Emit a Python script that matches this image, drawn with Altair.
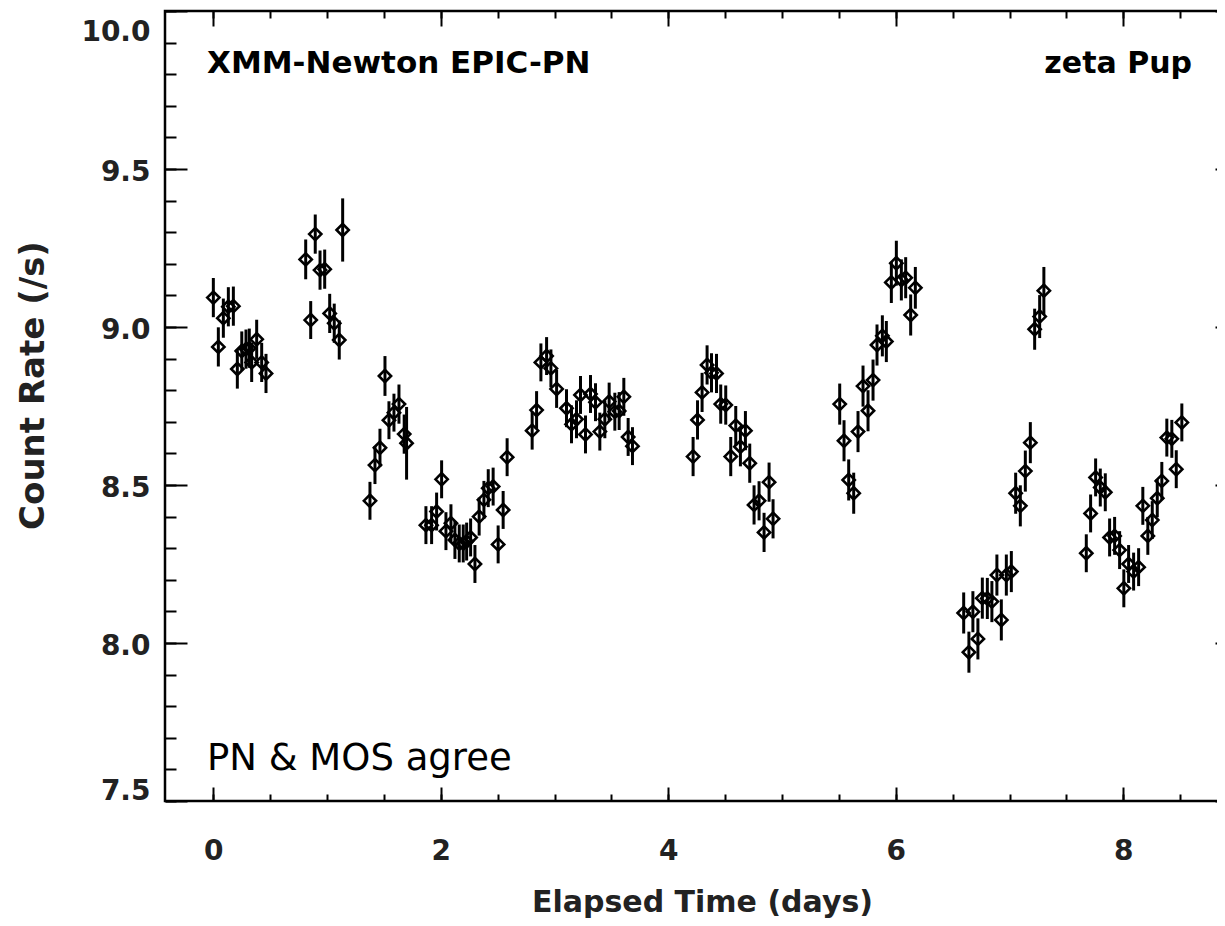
import altair as alt
import pandas as pd

# ---- data ----
time_days = [
    0.000, 0.044, 0.088, 0.132, 0.176, 0.211, 0.250, 0.287, 0.316, 0.337, 0.381, 0.425, 0.463,
    0.812, 0.856, 0.896, 0.938, 0.979, 1.023, 1.063, 1.107, 1.137,
    1.377, 1.421, 1.465, 1.509, 1.544, 1.588, 1.632, 1.678, 1.699,
    1.869, 1.919, 1.963, 2.007, 2.045, 2.089, 2.124, 2.162, 2.197, 2.227, 2.262, 2.300, 2.337,
    2.379, 2.417, 2.460, 2.504, 2.548, 2.583,
    2.803, 2.842, 2.880, 2.930, 2.968, 3.018, 3.105, 3.149, 3.193, 3.228, 3.272, 3.316, 3.360,
    3.398, 3.442, 3.480, 3.530, 3.568, 3.609, 3.647, 3.685,
    4.218, 4.257, 4.297, 4.341, 4.380, 4.424, 4.461, 4.505, 4.549, 4.593, 4.634, 4.678, 4.716,
    4.754, 4.798, 4.842, 4.886, 4.921,
    5.507, 5.545, 5.586, 5.630, 5.668, 5.712, 5.756, 5.800, 5.835, 5.882, 5.917, 5.961, 6.005,
    6.049, 6.087, 6.131, 6.172,
    6.597, 6.643, 6.678, 6.722, 6.761, 6.805, 6.845, 6.889, 6.928, 6.972, 7.016, 7.054, 7.095,
    7.139, 7.183, 7.221, 7.265, 7.302,
    7.675, 7.713, 7.757, 7.798, 7.842, 7.880, 7.924, 7.968, 8.005, 8.047, 8.091, 8.135, 8.172,
    8.216, 8.255, 8.299, 8.339, 8.383, 8.427, 8.466, 8.515,
]
count_rate = [
    9.093, 8.937, 9.028, 9.064, 9.066, 8.867, 8.924, 8.930, 8.933, 8.888, 8.961, 8.888, 8.853,
    9.214, 9.022, 9.294, 9.180, 9.183, 9.043, 9.012, 8.959, 9.307,
    8.450, 8.563, 8.618, 8.845, 8.705, 8.729, 8.756, 8.661, 8.632,
    8.373, 8.373, 8.416, 8.518, 8.354, 8.379, 8.326, 8.315, 8.315, 8.321, 8.334, 8.250, 8.400,
    8.453, 8.490, 8.495, 8.312, 8.421, 8.588,
    8.672, 8.737, 8.888, 8.908, 8.869, 8.804, 8.743, 8.692, 8.708, 8.785, 8.660, 8.788, 8.762,
    8.669, 8.708, 8.764, 8.732, 8.734, 8.779, 8.652, 8.623,
    8.590, 8.706, 8.793, 8.880, 8.855, 8.853, 8.756, 8.753, 8.590, 8.688, 8.621, 8.672, 8.569,
    8.437, 8.450, 8.350, 8.509, 8.393,
    8.756, 8.640, 8.516, 8.474, 8.669, 8.813, 8.735, 8.832, 8.943, 8.972, 8.954, 9.141, 9.202,
    9.149, 9.156, 9.038, 9.124,
    8.095, 7.971, 8.099, 8.013, 8.142, 8.141, 8.131, 8.215, 8.073, 8.215, 8.226, 8.474, 8.434,
    8.544, 8.634, 8.993, 9.033, 9.115,
    8.284, 8.410, 8.524, 8.492, 8.477, 8.334, 8.339, 8.294, 8.173, 8.250, 8.226, 8.240, 8.434,
    8.339, 8.389, 8.458, 8.513, 8.650, 8.646, 8.550, 8.698,
]
rate_err = (
    [0.062] * 13
    + [0.063, 0.06, 0.062, 0.062, 0.062, 0.062, 0.062, 0.062, 0.100]
    + [0.060, 0.060, 0.060, 0.063, 0.060, 0.060, 0.062, 0.062, 0.115]
    + [0.060] * 19
    + [0.060] * 21
    + [0.062] * 18
    + [0.065, 0.065, 0.065, 0.065, 0.065, 0.065, 0.065, 0.065, 0.065, 0.065, 0.065,
       0.065, 0.071, 0.065, 0.065, 0.065, 0.066]
    + [0.065] * 15 + [0.065, 0.068, 0.075]
    + [0.060] * 21
)

x_major = [0, 2, 4, 6, 8]
x_minor = [0.0, 0.5, 1.0, 1.5, 2.0, 2.5, 3.0, 3.5, 4.0, 4.5, 5.0, 5.5, 6.0, 6.5, 7.0, 7.5, 8.0, 8.5]
y_major = [7.5, 8.0, 8.5, 9.0, 9.5, 10.0]
y_minor = [7.5, 7.6, 7.7, 7.8, 7.9, 8.0, 8.1, 8.2, 8.3, 8.4, 8.5, 8.6, 8.7, 8.8, 8.9,
           9.0, 9.1, 9.2, 9.3, 9.4, 9.5, 9.6, 9.7, 9.8, 9.9, 10.0]

x_title = "Elapsed Time (days)"
y_title = "Count Rate (/s)"
label_left = "XMM-Newton EPIC-PN"
label_right = "zeta Pup"
label_note = "PN & MOS agree"

df = pd.DataFrame({"t": time_days, "rate": count_rate, "err": rate_err})
df["lo"] = df["rate"] - df["err"]
df["hi"] = df["rate"] + df["err"]

xs = alt.Scale(domain=[-0.425, 9.0], nice=False, zero=False)
ys = alt.Scale(domain=[7.5, 10.0], nice=False, zero=False)

BOLD_FONT = "DejaVu Sans"
TXT = "#222222"


def tick_axis(orient, values, size):
    return alt.Axis(orient=orient, values=values, tickSize=size, tickWidth=2,
                    tickColor="black", offset=-size, domain=False, labels=False,
                    grid=False, ticks=True)


x_label_axis = alt.Axis(
    orient="bottom", values=x_major, ticks=False, tickSize=0, domain=False, grid=False,
    labelFont=BOLD_FONT, labelFontWeight="bold", labelFontSize=28, labelColor=TXT,
    labelPadding=36, labelBaseline="top", labelFlush=False,
    titleFont=BOLD_FONT, titleFontWeight="bold", titleFontSize=30, titleColor=TXT,
    titleX=537, titleY=110, titleAlign="center", titleBaseline="alphabetic",
)
y_label_axis = alt.Axis(
    orient="left", values=y_major, format=".1f", ticks=False, tickSize=0, domain=False,
    grid=False, labelFont=BOLD_FONT, labelFontWeight="bold", labelFontSize=28,
    labelColor=TXT, labelPadding=15, labelAlign="right", labelBaseline="middle",
    labelFlush=False,
    labelOffset={"condition": [{"test": "datum.value >= 9.99", "value": 21},
                               {"test": "datum.value <= 7.51", "value": -10}],
                 "value": 3},
    titleFont=BOLD_FONT, titleFontWeight="bold", titleFontSize=34, titleColor=TXT,
    titleAngle=270, titleX=-122, titleY=374, titleAlign="center",
    titleBaseline="alphabetic",
)

base = alt.Chart(df)

bars = base.mark_rule(color="black", strokeWidth=3).encode(
    x=alt.X("t:Q", scale=xs, axis=x_label_axis, title=x_title),
    y=alt.Y("lo:Q", scale=ys, axis=y_label_axis, title=y_title),
    y2="hi:Q",
)

points = base.mark_point(shape="diamond", filled=False, color="black", size=150,
                         strokeWidth=2.6, opacity=1).encode(
    x=alt.X("t:Q", scale=xs, axis=tick_axis("bottom", x_major, 14), title=None),
    y=alt.Y("rate:Q", scale=ys, axis=tick_axis("left", y_major, 22), title=None),
)


def ghost(xax, yax):
    return base.mark_point(opacity=0).encode(
        x=alt.X("t:Q", scale=xs, axis=xax, title=None),
        y=alt.Y("rate:Q", scale=ys, axis=yax, title=None),
    )


g1 = ghost(tick_axis("bottom", x_minor, 7), tick_axis("left", y_minor, 11))
g2 = ghost(tick_axis("top", x_major, 15), tick_axis("right", y_major, 22))
g3 = ghost(tick_axis("top", x_minor, 7), tick_axis("right", y_minor, 11))

t_left = alt.Chart(pd.DataFrame({"label": [label_left]})).mark_text(
    font=BOLD_FONT, fontWeight="bold", fontSize=31, color="black", align="left",
    baseline="alphabetic").encode(text="label:N", x=alt.value(42), y=alt.value(62))
t_right = alt.Chart(pd.DataFrame({"label": [label_right]})).mark_text(
    font=BOLD_FONT, fontWeight="bold", fontSize=30, color="black", align="right",
    baseline="alphabetic").encode(text="label:N", x=alt.value(1027), y=alt.value(62))
t_note = alt.Chart(pd.DataFrame({"label": [label_note]})).mark_text(
    font="DejaVu Sans", fontSize=37, color="black", align="left",
    baseline="alphabetic").encode(text="label:N", x=alt.value(42), y=alt.value(759))

chart = (
    alt.layer(bars, points, g1, g2, g3, t_left, t_right, t_note)
    .resolve_axis(x="independent", y="independent")
    .properties(
        width=1072, height=790,
        autosize=alt.AutoSizeParams(type="none"),
        padding={"left": 157, "top": 3, "right": -20, "bottom": 117},
        background="white",
    )
    .configure_view(stroke="black", strokeWidth=2.5)
)

chart.save("out.html", embed_options={"renderer": "svg", "actions": False})
